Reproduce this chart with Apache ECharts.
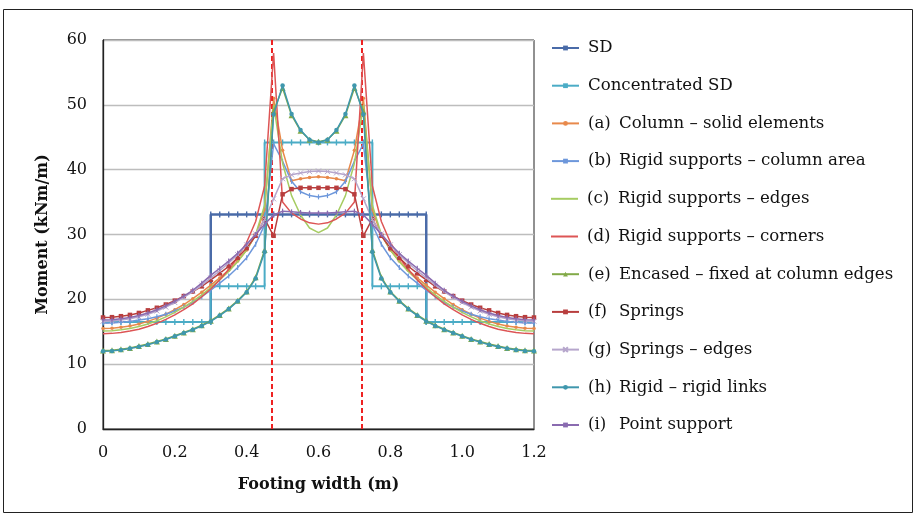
<!DOCTYPE html>
<html>
<head>
<meta charset="utf-8">
<script src="https://cdn.jsdelivr.net/npm/echarts@6/dist/echarts.min.js"></script>
<style>html,body{margin:0;padding:0;background:#fff;}#c{width:915px;height:516px;}</style>
</head>
<body>
<div id="c"></div>
<script>
// ---- data ----
var xs = [0,0.025,0.05,0.075,0.1,0.125,0.15,0.175,0.2,0.225,0.25,0.275,0.3,0.325,0.35,0.375,0.4,0.425,0.45,0.475,0.5,0.525,0.55,0.575,0.6,0.625,0.65,0.675,0.7,0.725,0.75,0.775,0.8,0.825,0.85,0.875,0.9,0.925,0.95,0.975,1.0,1.025,1.05,1.075,1.1,1.125,1.15,1.175,1.2];

var sdX = [0.3,0.3,0.325,0.35,0.375,0.4,0.425,0.45,0.475,0.5,0.525,0.55,0.575,0.6,0.625,0.65,0.675,0.7,0.725,0.75,0.775,0.8,0.825,0.85,0.875,0.9,0.9];
var sdY = [16.5,33.1,33.1,33.1,33.1,33.1,33.1,33.1,33.1,33.1,33.1,33.1,33.1,33.1,33.1,33.1,33.1,33.1,33.1,33.1,33.1,33.1,33.1,33.1,33.1,33.1,16.5];

var csdX = [0,0.025,0.05,0.075,0.1,0.125,0.15,0.175,0.2,0.225,0.25,0.275,0.3,
            0.3,0.325,0.35,0.375,0.4,0.425,0.45,
            0.45,0.475,0.5,0.525,0.55,0.575,0.6,0.625,0.65,0.675,0.7,0.725,0.75,
            0.75,0.775,0.8,0.825,0.85,0.875,0.9,
            0.9,0.925,0.95,0.975,1.0,1.025,1.05,1.075,1.1,1.125,1.15,1.175,1.2];
var csdY = [16.5,16.5,16.5,16.5,16.5,16.5,16.5,16.5,16.5,16.5,16.5,16.5,16.5,
            22,22,22,22,22,22,22,
            44.2,44.2,44.2,44.2,44.2,44.2,44.2,44.2,44.2,44.2,44.2,44.2,44.2,
            22,22,22,22,22,22,22,
            16.5,16.5,16.5,16.5,16.5,16.5,16.5,16.5,16.5,16.5,16.5,16.5,16.5];

var colA = [15.5,15.55,15.7,15.9,16.2,16.6,17.1,17.7,18.4,19.2,20.1,21.1,22.2,23.3,24.5,25.9,27.6,29.9,33.8,51.0,43.0,38.3,38.6,38.8,38.9,38.8,38.6,38.3,43.0,51.0,33.8,29.9,27.6,25.9,24.5,23.3,22.2,21.1,20.1,19.2,18.4,17.7,17.1,16.6,16.2,15.9,15.7,15.55,15.5];
var rigB = [16.3,16.35,16.45,16.6,16.8,17.0,17.3,17.7,18.2,18.8,19.5,20.4,21.4,22.5,23.6,24.9,26.4,28.5,31.5,44.0,41.3,38.2,36.6,36.0,35.8,36.0,36.6,38.2,41.3,44.0,31.5,28.5,26.4,24.9,23.6,22.5,21.4,20.4,19.5,18.8,18.2,17.7,17.3,17.0,16.8,16.6,16.45,16.35,16.3];
var rigC = [15.1,15.15,15.3,15.5,15.8,16.2,16.7,17.3,18.0,18.8,19.7,20.7,21.8,23.0,24.3,25.8,27.6,30.0,34.5,50.0,41.0,36.0,33.0,31.0,30.3,31.0,33.0,36.0,41.0,50.0,34.5,30.0,27.6,25.8,24.3,23.0,21.8,20.7,19.7,18.8,18.0,17.3,16.7,16.2,15.8,15.5,15.3,15.15,15.1];
var rigD = [14.7,14.75,14.9,15.1,15.4,15.8,16.3,16.9,17.6,18.4,19.3,20.4,21.6,23.0,24.6,26.5,28.8,32.0,37.5,58.0,35.0,33.3,32.4,31.8,31.6,31.8,32.4,33.3,35.0,58.0,37.5,32.0,28.8,26.5,24.6,23.0,21.6,20.4,19.3,18.4,17.6,16.9,16.3,15.8,15.4,15.1,14.9,14.75,14.7];
var encE = [12.1,12.15,12.3,12.5,12.8,13.1,13.5,13.9,14.4,14.9,15.4,16.0,16.7,17.6,18.6,19.8,21.2,23.4,27.6,49.0,52.6,48.4,46.0,44.6,44.3,44.6,46.0,48.4,52.6,49.0,27.6,23.4,21.2,19.8,18.6,17.6,16.7,16.0,15.4,14.9,14.4,13.9,13.5,13.1,12.8,12.5,12.3,12.15,12.1];
var sprF = [17.2,17.25,17.4,17.6,17.9,18.3,18.7,19.2,19.8,20.5,21.2,22.0,23.0,24.0,25.1,26.4,27.9,29.8,32.4,29.8,36.2,37.0,37.2,37.2,37.2,37.2,37.2,37.0,36.2,29.8,32.4,29.8,27.9,26.4,25.1,24.0,23.0,22.0,21.2,20.5,19.8,19.2,18.7,18.3,17.9,17.6,17.4,17.25,17.2];
var sprG = [16.6,16.65,16.8,17.0,17.3,17.7,18.2,18.8,19.5,20.3,21.2,22.2,23.3,24.4,25.6,26.9,28.4,30.1,32.3,35.5,38.6,39.2,39.5,39.7,39.8,39.7,39.5,39.2,38.6,35.5,32.3,30.1,28.4,26.9,25.6,24.4,23.3,22.2,21.2,20.3,19.5,18.8,18.2,17.7,17.3,17.0,16.8,16.65,16.6];
var rigH = [12.0,12.05,12.2,12.4,12.7,13.0,13.4,13.8,14.3,14.8,15.3,15.9,16.6,17.5,18.5,19.7,21.1,23.2,27.3,48.5,53.0,48.6,46.1,44.6,44.2,44.6,46.1,48.6,53.0,48.5,27.3,23.2,21.1,19.7,18.5,17.5,16.6,15.9,15.3,14.8,14.3,13.8,13.4,13.0,12.7,12.4,12.2,12.05,12.0];
var ptI = [16.8,16.85,17.0,17.2,17.5,17.9,18.4,19.0,19.7,20.5,21.4,22.5,23.7,24.8,25.9,27.1,28.5,30.0,31.6,33.0,33.6,33.5,33.4,33.3,33.3,33.3,33.4,33.5,33.6,33.0,31.6,30.0,28.5,27.1,25.9,24.8,23.7,22.5,21.4,20.5,19.7,19.0,18.4,17.9,17.5,17.2,17.0,16.85,16.8];

var columnEdges = [0.475, 0.725];

var legendTags = ['', '', '(a)', '(b)', '(c)', '(d)', '(e)', '(f)', '(g)', '(h)', '(i)'];
var legendTexts = ['SD', 'Concentrated SD', 'Column – solid elements', 'Rigid supports – column area',
  'Rigid supports – edges', 'Rigid supports – corners', 'Encased – fixed at column edges',
  'Springs', 'Springs – edges', 'Rigid – rigid links', 'Point support'];

var yTicks = {min: 0, max: 60, step: 10};
var xTicks = {min: 0, max: 1.2, step: 0.2};

// ---- build ----
function pairs(xa, ya) { return xa.map(function (x, i) { return [x, ya[i]]; }); }
var FONT = 'DejaVu Serif';
var names = legendTexts.map(function (t, i) { return legendTags[i] ? legendTags[i] + ' ' + t : t; });

var crossMark = 'path://M0,0L10,10M10,0L0,10';
var tickMark = 'path://M0,0L2,0L2,10L0,10Z';

function lineSeries(idx, data, color, width, symbol, size, extra) {
  var s = {
    name: names[idx], type: 'line', data: data, smooth: false,
    lineStyle: {color: color, width: width},
    itemStyle: {color: color},
    symbol: symbol || 'none', symbolSize: size || 4, showSymbol: !!symbol,
    animation: false, z: 2 + idx
  };
  if (extra) for (var k in extra) s[k] = extra[k];
  return s;
}

var series = [
  lineSeries(0, pairs(sdX, sdY), '#4a6ba8', 2.5, tickMark, [1.4, 6]),
  lineSeries(1, pairs(csdX, csdY), '#4bacc6', 2, tickMark, [1.4, 6]),
  lineSeries(2, pairs(xs, colA), '#e8894b', 1.5, 'circle', 3.5),
  lineSeries(3, pairs(xs, rigB), '#6d97db', 1.5, tickMark, [1.2, 5]),
  lineSeries(4, pairs(xs, rigC), '#a6cc62', 1.5, null),
  lineSeries(5, pairs(xs, rigD), '#dd5555', 1.5, null),
  lineSeries(6, pairs(xs, encE), '#82aa48', 1.5, 'triangle', 6),
  lineSeries(7, pairs(xs, sprF), '#b83e3e', 1.5, 'rect', 4.5),
  lineSeries(8, pairs(xs, sprG), '#b6a6cc', 1.5, crossMark, 5, {itemStyle: {color: 'rgba(0,0,0,0)', borderColor: '#b6a6cc', borderWidth: 1}}),
  lineSeries(9, pairs(xs, rigH), '#3f97ad', 1.5, 'circle', 4.5),
  lineSeries(10, pairs(xs, ptI), '#8a6bb0', 1.5, tickMark, [1.2, 5])
];
series.push({
  type: 'line', data: [], silent: true, z: 20,
  markLine: {
    silent: true, symbol: 'none', animation: false, label: {show: false},
    lineStyle: {color: '#ee2222', type: [5, 3], width: 2},
    data: columnEdges.map(function (x) { return {xAxis: x}; })
  }
});

// one legend component per entry so the vertical spacing is fixed
var legendCenter0 = 46, legendStep = 37.7, LFS = 16.6;
var legends = names.map(function (n, i) {
  var label = legendTags[i] ? '{t|' + legendTags[i] + '}{n|' + legendTexts[i] + '}' : '{m|' + legendTexts[i] + '}';
  var noMarker = (i === 4 || i === 5);
  var h = noMarker ? 2 : 6;
  return {
    orient: 'horizontal', left: 551, top: legendCenter0 + i * legendStep - 6.5,
    itemWidth: 27, itemHeight: h, padding: 0,
    data: [noMarker ? {name: n, icon: 'rect'} : n], selectedMode: false,
    formatter: function () { return label; },
    textStyle: {
      fontFamily: FONT, fontSize: LFS, color: '#111',
      rich: {
        t: {fontFamily: FONT, fontSize: LFS, color: '#111', width: 31, padding: [0, 0, 0, 4]},
        n: {fontFamily: FONT, fontSize: LFS, color: '#111'},
        m: {fontFamily: FONT, fontSize: LFS, color: '#111', padding: [0, 0, 0, 4]}
      }
    }
  };
});

var chart = echarts.init(document.getElementById('c'), null, {renderer: 'canvas'});
chart.setOption({
  backgroundColor: '#fff',
  animation: false,
  textStyle: {fontFamily: FONT},
  grid: {left: 103, top: 40, width: 431, height: 389, show: true, borderColor: '#222', borderWidth: 1, backgroundColor: 'transparent'},
  xAxis: {
    type: 'value', min: xTicks.min, max: xTicks.max, interval: xTicks.step,
    axisLine: {lineStyle: {color: '#222', width: 1.3}}, axisTick: {show: false},
    splitLine: {show: false},
    axisLabel: {color: '#111', fontFamily: FONT, fontSize: 16, margin: 16,
      formatter: function (v) { return v === 0 ? '0' : v.toFixed(1); }},
    name: 'Footing width (m)', nameLocation: 'middle', nameGap: 48,
    nameTextStyle: {color: '#111', fontFamily: FONT, fontSize: 16, fontWeight: 'bold'}
  },
  yAxis: {
    type: 'value', min: yTicks.min, max: yTicks.max, interval: yTicks.step,
    axisLine: {show: true, lineStyle: {color: '#222', width: 1.3}}, axisTick: {show: false},
    splitLine: {lineStyle: {color: '#bdbdbd', width: 1.3}},
    axisLabel: {color: '#111', fontFamily: FONT, fontSize: 16, margin: 16},
    name: 'Moment (kNm/m)', nameLocation: 'middle', nameGap: 52, nameRotate: 90,
    nameTextStyle: {color: '#111', fontFamily: FONT, fontSize: 16, fontWeight: 'bold'}
  },
  legend: legends,
  graphic: [{type: 'rect', shape: {x: 3.5, y: 9.5, width: 909, height: 503}, style: {fill: 'none', stroke: '#222', lineWidth: 1}, silent: true, z: -1}],
  series: series
});
</script>
</body>
</html>
